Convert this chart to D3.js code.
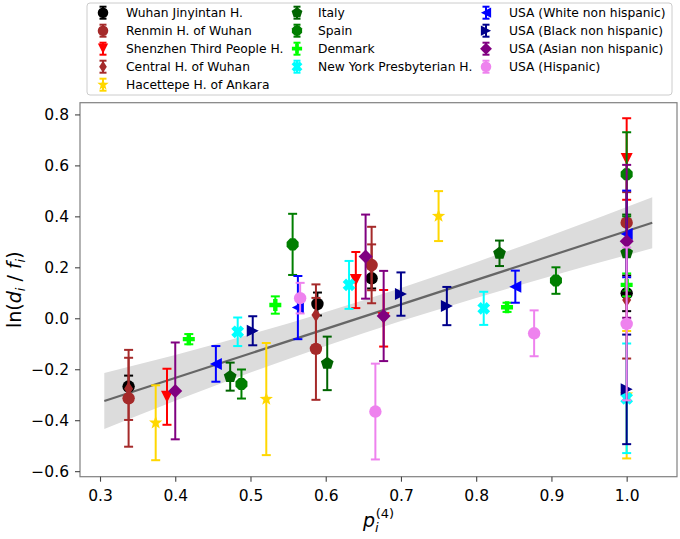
<!DOCTYPE html>
<html>
<head>
<meta charset="utf-8">
<script src="https://cdn.jsdelivr.net/npm/d3@7"></script>
<style>
body { margin: 0; background: #fff; }
svg { font-family: "DejaVu Sans", sans-serif; }
</style>
</head>
<body>
<div id="chart"></div>
<script>
// series, legend order
var seriesNames = ["Wuhan Jinyintan H.", "Renmin H. of Wuhan", "Shenzhen Third People H.", "Central H. of Wuhan",
    "Hacettepe H. of Ankara", "Italy", "Spain", "Denmark", "New York Presbyterian H.",
    "USA (White non hispanic)", "USA (Black non hispanic)", "USA (Asian non hispanic)", "USA (Hispanic)"];
var seriesColors = ["#000000", "#a52a2a", "#ff0000", "#a52a2a", "#ffd700", "#006400", "#007f00", "#00ff00",
    "#00ffff", "#0000ff", "#00008b", "#800080", "#ee82ee"];
var seriesMarkers = ["o", "o", "v", "d", "*", "p", "8", "P", "X", "<", ">", "D", "o"];

// [p_i, ln(d_i/f_i), error]
var wuhanJinyintan = [[0.338, -0.268, 0.043], [0.589, 0.056, 0.045], [0.661, 0.157, 0.04], [1.0, 0.098, 0.07]];
var renmin = [[0.338, -0.314, 0.19], [0.587, -0.12, 0.2], [0.661, 0.209, 0.15], [1.0, 0.375, 0.12]];
var shenzhen = [[0.389, -0.308, 0.11], [0.640, 0.150, 0.11], [0.677, 0.0, 0.111], [1.0, 0.625, 0.16]];
var centralWuhan = [[0.338, -0.277, 0.122], [0.587, 0.013, 0.12], [0.661, 0.20, 0.09], [1.0, 0.072, 0.23]];
var hacettepe = [[0.374, -0.41, 0.147], [0.521, -0.317, 0.22], [0.750, 0.401, 0.098], [1.0, -0.30, 0.25]];
var italy = [[0.473, -0.229, 0.055], [0.602, -0.177, 0.105], [0.831, 0.255, 0.05], [1.0, 0.257, 0.15]];
var spain = [[0.488, -0.258, 0.057], [0.556, 0.290, 0.12], [0.906, 0.148, 0.052], [1.0, 0.565, 0.165]];
var denmark = [[0.418, -0.082, 0.02], [0.533, 0.052, 0.034], [0.841, 0.043, 0.018], [1.0, 0.131, 0.045]];
var newYork = [[0.483, -0.053, 0.056], [0.631, 0.131, 0.094], [0.810, 0.039, 0.065], [1.0, -0.314, 0.215]];
var usaWhite = [[0.454, -0.179, 0.07], [0.563, 0.042, 0.124], [0.852, 0.124, 0.063], [1.0, 0.331, 0.17]];
var usaBlack = [[0.503, -0.049, 0.057], [0.700, 0.095, 0.085], [0.761, 0.048, 0.075], [1.0, -0.279, 0.215]];
var usaAsian = [[0.400, -0.285, 0.19], [0.653, 0.242, 0.165], [0.677, 0.009, 0.177], [1.0, 0.302, 0.30]];
var usaHispanic = [[0.566, 0.079, 0.06], [0.666, -0.366, 0.188], [0.877, -0.059, 0.09], [1.0, -0.022, 0.30]];
var seriesData = [wuhanJinyintan, renmin, shenzhen, centralWuhan, hacettepe, italy, spain, denmark,
    newYork, usaWhite, usaBlack, usaAsian, usaHispanic];

// regression line and confidence band
var fitX = [0.3057, 1.034];
var fitY = [-0.3245, 0.375];
var bandX = [0.3057, 0.40, 0.50, 0.60, 0.70, 0.80, 0.90, 1.034];
var bandHi = [-0.2145, -0.144, -0.063, 0.025, 0.119, 0.220, 0.326, 0.475];
var bandLo = [-0.4345, -0.324, -0.213, -0.109, -0.011, 0.080, 0.166, 0.275];

var xTicks = [0.3, 0.4, 0.5, 0.6, 0.7, 0.8, 0.9, 1.0];
var yTicks = [-0.6, -0.4, -0.2, 0.0, 0.2, 0.4, 0.6, 0.8];

var width = 680, height = 539;
var plotLeft = 80, plotRight = 677, plotTop = 102.7, plotBottom = 476.7;

var svg = d3.select("#chart").append("svg")
    .attr("width", width)
    .attr("height", height);

var x = d3.scaleLinear().domain([0.2734, 1.0669]).range([plotLeft, plotRight]);
var y = d3.scaleLinear().domain([-0.6217, 0.846]).range([plotBottom, plotTop]);

// marker shapes, roughly matplotlib's
function poly(pts) { return "M" + pts.map(function(p) { return p[0].toFixed(2) + "," + p[1].toFixed(2); }).join("L") + "Z"; }
function regular(n, r, rot) {
    var pts = [];
    for (var i = 0; i < n; i++) {
        var a = rot + i * 2 * Math.PI / n;
        pts.push([r * Math.sin(a), -r * Math.cos(a)]);
    }
    return pts;
}
function markerPath(m) {
    if (m == "o") return d3.symbol(d3.symbolCircle, Math.PI * 6.2 * 6.2)();
    if (m == "8") return poly(regular(8, 6.5, Math.PI / 8));
    if (m == "p") return poly(regular(5, 6.7, 0));
    if (m == "v") return poly([[0, 6], [-6, -6], [6, -6]]);
    if (m == "<") return poly([[-6, 0], [6, -6], [6, 6]]);
    if (m == ">") return poly([[6, 0], [-6, -6], [-6, 6]]);
    if (m == "D") return poly([[0, -7], [7, 0], [0, 7], [-7, 0]]);
    if (m == "d") return poly([[0, -7], [4.5, 0], [0, 7], [-4.5, 0]]);
    if (m == "*") {
        var pts = [];
        for (var i = 0; i < 10; i++) {
            var rr = i % 2 == 0 ? 7 : 2.9;
            var a = i * Math.PI / 5;
            pts.push([rr * Math.sin(a), -rr * Math.cos(a)]);
        }
        return poly(pts);
    }
    if (m == "P" || m == "X") {
        var a = 6, t = 2.2;
        var pts = [[-t, -a], [t, -a], [t, -t], [a, -t], [a, t], [t, t], [t, a], [-t, a], [-t, t], [-a, t], [-a, -t], [-t, -t]];
        if (m == "X") {
            var c = Math.SQRT1_2;
            pts = pts.map(function(p) { return [(p[0] - p[1]) * c * 1.1, (p[0] + p[1]) * c * 1.1]; });
        }
        return poly(pts);
    }
    return d3.symbol(d3.symbolCircle, 100)();
}

// confidence band + fit line
var band = bandX.map(function(d, i) { return {x: d, lo: bandLo[i], hi: bandHi[i]}; });
svg.append("path")
    .datum(band)
    .attr("d", d3.area().x(function(d) { return x(d.x); }).y0(function(d) { return y(d.lo); }).y1(function(d) { return y(d.hi); }).curve(d3.curveMonotoneX))
    .style("fill", "#dcdcdc")
    .style("stroke", "none");

svg.append("line")
    .attr("x1", x(fitX[0])).attr("y1", y(fitY[0]))
    .attr("x2", x(fitX[1])).attr("y2", y(fitY[1]))
    .style("stroke", "#666")
    .style("stroke-width", 2.2);

// errorbars, one series after the other
var capW = 4.5;
seriesData.forEach(function(data, s) {
    var g = svg.append("g").attr("class", "series");
    var col = seriesColors[s];
    g.selectAll(".bar").data(data).enter().append("line")
        .attr("x1", function(d) { return x(d[0]); })
        .attr("x2", function(d) { return x(d[0]); })
        .attr("y1", function(d) { return y(d[1] - d[2]); })
        .attr("y2", function(d) { return y(d[1] + d[2]); })
        .style("stroke", col)
        .style("stroke-width", 2);
    [-1, 1].forEach(function(sign) {
        g.selectAll(".cap" + sign).data(data).enter().append("line")
            .attr("x1", function(d) { return x(d[0]) - capW; })
            .attr("x2", function(d) { return x(d[0]) + capW; })
            .attr("y1", function(d) { return y(d[1] + sign * d[2]); })
            .attr("y2", function(d) { return y(d[1] + sign * d[2]); })
            .style("stroke", col)
            .style("stroke-width", 2);
    });
    g.selectAll(".mark").data(data).enter().append("path")
        .attr("d", markerPath(seriesMarkers[s]))
        .attr("transform", function(d) { return "translate(" + x(d[0]) + "," + y(d[1]) + ")"; })
        .style("fill", col)
        .style("stroke", "none");
});

// frame
svg.append("rect")
    .attr("x", plotLeft).attr("y", plotTop)
    .attr("width", plotRight - plotLeft).attr("height", plotBottom - plotTop)
    .style("fill", "none")
    .style("stroke", "#808080")
    .style("stroke-width", 1.2);

var xAxis = svg.append("g")
    .attr("transform", "translate(0," + plotBottom + ")")
    .call(d3.axisBottom(x).tickValues(xTicks).tickFormat(d3.format(".1f")).tickSize(5).tickPadding(8));
var yAxis = svg.append("g")
    .attr("transform", "translate(" + plotLeft + ",0)")
    .call(d3.axisLeft(y).tickValues(yTicks).tickFormat(d3.format(".1f")).tickSize(5).tickPadding(6));
[xAxis, yAxis].forEach(function(a) {
    a.select(".domain").remove();
    a.selectAll(".tick line").style("stroke", "#444").style("stroke-width", 1.1);
    a.selectAll(".tick text").style("font-size", "15.5px").style("font-family", "DejaVu Sans").style("fill", "#000");
});

// axis labels
var xl = svg.append("text")
    .attr("x", (plotLeft + plotRight) / 2)
    .attr("y", 527)
    .attr("text-anchor", "middle")
    .style("font-size", "19px");
xl.append("tspan").text("p").style("font-style", "italic");
xl.append("tspan").text("i").style("font-style", "italic").style("font-size", "13px").attr("dy", 5);
xl.append("tspan").text("(4)").style("font-size", "13px").attr("dx", -3).attr("dy", -14);

var yl = svg.append("text")
    .attr("transform", "translate(21," + (plotTop + plotBottom) / 2 + ") rotate(-90)")
    .attr("text-anchor", "middle")
    .style("font-size", "19px");
yl.append("tspan").text("ln(");
yl.append("tspan").text("d").style("font-style", "italic");
yl.append("tspan").text("i").style("font-style", "italic").style("font-size", "13px").attr("dy", 4);
yl.append("tspan").text(" / ").attr("dy", -4);
yl.append("tspan").text("f").style("font-style", "italic");
yl.append("tspan").text("i").style("font-style", "italic").style("font-size", "13px").attr("dy", 4);
yl.append("tspan").text(")").attr("dy", -4);

// legend: 3 columns of 5, 4, 4 entries
var legend = svg.append("g").attr("id", "legend");
legend.append("rect")
    .attr("x", 87).attr("y", 3)
    .attr("width", 585).attr("height", 92)
    .attr("rx", 3)
    .style("fill", "#fff")
    .style("fill-opacity", 0.8)
    .style("stroke", "#cccccc")
    .style("stroke-width", 1);

var markX = [103, 297, 486];
var textX = [126, 318, 509];
var colStart = [0, 5, 9];
seriesNames.forEach(function(name, i) {
    var c = i < 5 ? 0 : (i < 9 ? 1 : 2);
    var r = i - colStart[c];
    var cy = 12.7 + r * 18;
    var col = seriesColors[i];
    legend.append("line")
        .attr("x1", markX[c]).attr("x2", markX[c])
        .attr("y1", cy - 6).attr("y2", cy + 6)
        .style("stroke", col).style("stroke-width", 2);
    [-6, 6].forEach(function(o) {
        legend.append("line")
            .attr("x1", markX[c] - 3.5).attr("x2", markX[c] + 3.5)
            .attr("y1", cy + o).attr("y2", cy + o)
            .style("stroke", col).style("stroke-width", 2);
    });
    legend.append("path")
        .attr("d", markerPath(seriesMarkers[i]))
        .attr("transform", "translate(" + markX[c] + "," + cy + ") scale(0.85)")
        .style("fill", col);
    legend.append("text")
        .attr("x", textX[c])
        .attr("y", cy)
        .attr("dy", "0.36em")
        .text(name)
        .style("font-size", "12.3px")
        .style("fill", "#000");
});
</script>
</body>
</html>
